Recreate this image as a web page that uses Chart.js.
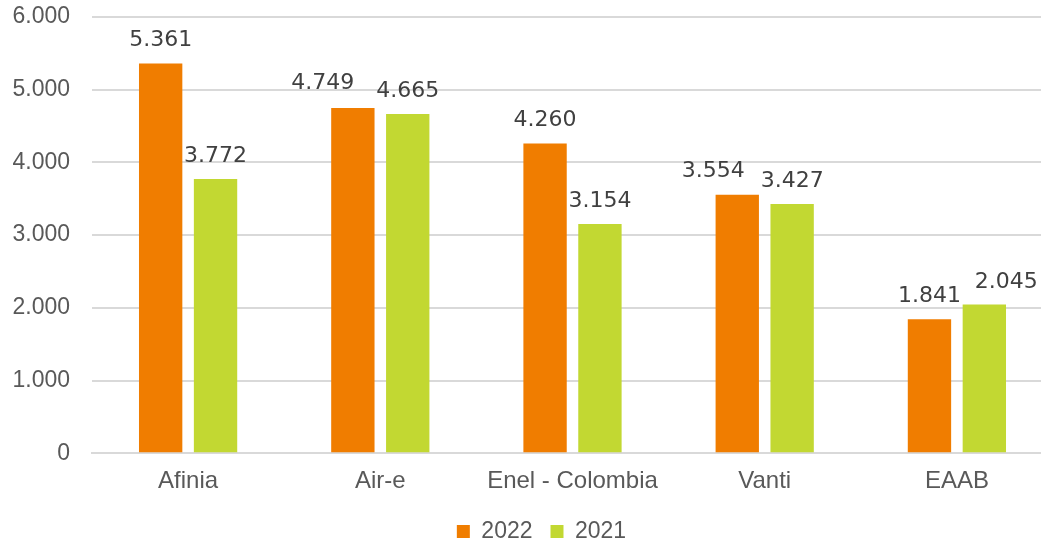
<!DOCTYPE html>
<html>
<head>
<meta charset="utf-8">
<script src="https://cdn.jsdelivr.net/npm/chart.js@4"></script>
<style>
  html, body { margin: 0; padding: 0; background: #fff; }
  .wrap { width: 1041px; height: 542px; }
</style>
</head>
<body>
<div class="wrap"><canvas class="barChart"></canvas></div>
<script>
"use strict";

const companies = ["Afinia", "Air-e", "Enel - Colombia", "Vanti", "EAAB"];
const values2022 = [5361, 4749, 4260, 3554, 1841];
const values2021 = [3772, 4665, 3154, 3427, 2045];
const yTicks = [0, 1000, 2000, 3000, 4000, 5000, 6000];

// label nudges (px) so neighbouring labels don't collide, like the original
const labelShift = [
  [[0, 0], [-30, -2], [0, 0], [-24, -1], [0, 0]],
  [[0, 0], [0, 0], [0, 0], [0, 0], [22, 0]],
];

const fmt = (v) => v.toLocaleString("de-DE");

const barLabels = {
  id: "barLabels",
  afterInit(chart) {
    // legend sits close to the bottom edge in the original
    const lg = chart.legend;
    const fit = lg.fit.bind(lg);
    lg.fit = function () {
      fit();
      this.height -= 11;
    };
  },
  afterLayout(chart) {
    const lg = chart.legend;
    lg.left += 21;
    lg.right += 21;
    // the plot runs a little past the right edge of the picture
    const x = chart.scales.x;
    x.right += 12;
    x.width += 12;
    chart.chartArea.right += 12;
    chart.chartArea.width += 12;
    x.configure();
  },
  afterDatasetsDraw(chart) {
    const c = chart.ctx;
    c.save();
    c.font = "22px 'DejaVu Sans'";
    c.fillStyle = "#404040";
    c.textAlign = "center";
    c.textBaseline = "alphabetic";
    chart.data.datasets.forEach((ds, i) => {
      chart.getDatasetMeta(i).data.forEach((bar, j) => {
        const s = labelShift[i][j];
        c.fillText(fmt(ds.data[j]), bar.x + s[0], bar.y - 17 + s[1]);
      });
    });
    c.restore();
  },
};

const ctx = document.querySelector(".barChart");
const myChart = new Chart(ctx, {
  type: "bar",
  data: {
    labels: companies,
    datasets: [
      {
        label: "2022",
        data: values2022,
        backgroundColor: "#F07D00",
      },
      {
        label: "2021",
        data: values2021,
        backgroundColor: "#C2D832",
      },
    ],
  },
  options: {
    responsive: true,
    maintainAspectRatio: false,
    animation: false,
    categoryPercentage: 0.571,
    barPercentage: 0.79,
    layout: { padding: { top: 17, right: 0, left: 0, bottom: 0 } },
    plugins: {
      legend: {
        position: "bottom",
        labels: {
          boxWidth: 13,
          boxHeight: 13,
          padding: 18,
          color: "#595959",
          font: { family: "Liberation Sans", size: 23 },
        },
      },
      tooltip: { enabled: false },
    },
    scales: {
      x: {
        grid: { display: false },
        border: { color: "#D9D9D9", width: 2 },
        ticks: {
          color: "#595959",
          padding: 6,
          font: { family: "Liberation Sans", size: 24 },
        },
      },
      y: {
        min: 0,
        max: 6000,
        afterFit(scale) {
          scale.width = 92;
          scale.paddingTop = 0;
          scale.paddingBottom = 0;
        },
        afterBuildTicks(scale) { scale.ticks = yTicks.map((v) => ({ value: v })); },
        grid: { color: "#D9D9D9", lineWidth: 2, drawTicks: false },
        border: { display: false },
        ticks: {
          color: "#595959",
          padding: 22,
          font: { family: "Liberation Sans", size: 23 },
          callback: (v) => fmt(v),
        },
      },
    },
  },
  plugins: [barLabels],
});
</script>
</body>
</html>
